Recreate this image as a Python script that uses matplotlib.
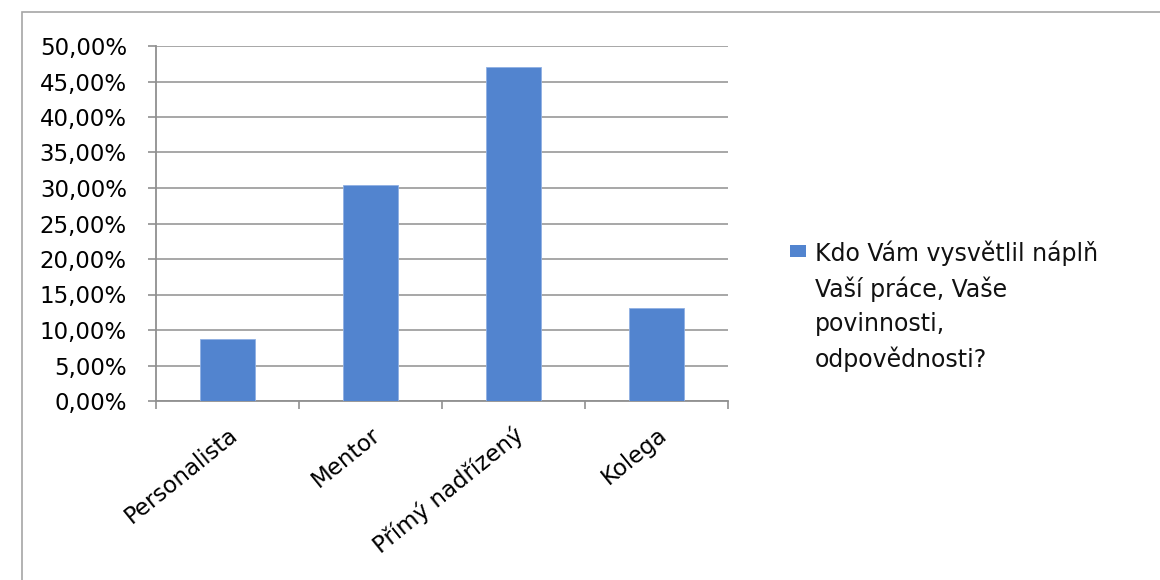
import matplotlib
matplotlib.use("Agg")
import matplotlib.pyplot as plt
from matplotlib.patches import Rectangle
from matplotlib.ticker import FuncFormatter, FixedLocator

categories = ["Personalista", "Mentor", "Přímý nadřízený", "Kolega"]
values = [8.8, 30.4, 47.1, 13.1]
series_label = "Kdo Vám vysvětlil náplň\nVaší práce, Vaše\npovinnosti,\nodpovědnosti?"
y_ticks = [0, 5, 10, 15, 20, 25, 30, 35, 40, 45, 50]

plt.rcParams['font.family'] = ['DejaVu Sans']
W, H = 1160, 580
bar_color = '#5284CF'

fig = plt.figure(figsize=(11.6, 5.8), dpi=100)
# outer chart border
fig.patches.append(Rectangle((22/W, -0.1), 1.2, 1 - 12/H + 0.1, transform=fig.transFigure,
                             fill=False, edgecolor='#a6a6a6', linewidth=1.2))

ax = fig.add_axes([156/W, 1 - 401/H, (728 - 156)/W, (401 - 46)/H])
x = list(range(len(categories)))
ax.bar(x, values, width=0.39, color=bar_color, edgecolor='#8fb0e3', linewidth=0.6,
       label=series_label, zorder=3)

ax.set_xlim(-0.5, len(categories) - 0.5)
ax.set_ylim(0, 50)
ax.yaxis.set_major_locator(FixedLocator(y_ticks))
ax.yaxis.set_major_formatter(FuncFormatter(lambda v, p: f"{v:.2f}".replace('.', ',') + "%"))
ax.grid(axis='y', color='#a0a0a0', linewidth=1.3, zorder=0)
ax.set_axisbelow(True)

ax.set_xticks(x)
ax.set_xticklabels(categories, rotation=39, ha='right', rotation_mode='anchor', fontsize=16.5)
ax.set_xticks([i - 0.5 for i in range(len(categories) + 1)], minor=True)
ax.tick_params(axis='x', which='major', length=0, pad=16)
ax.tick_params(axis='x', which='minor', length=6, color='#909090', width=1.2)
ax.tick_params(axis='y', length=6, color='#909090', width=1.2, labelsize=16.5, pad=15)

for s in ['top', 'right']:
    ax.spines[s].set_visible(False)
for s in ['left', 'bottom']:
    ax.spines[s].set_color('#909090')
    ax.spines[s].set_linewidth(1.3)

# legend (single series), drawn manually so the key sits at the first line
fig.patches.append(Rectangle((790/W, 1 - 257/H), 16/W, 12/H, transform=fig.transFigure,
                             facecolor=bar_color, edgecolor='none'))
fig.text(815/W, 1 - 241/H, series_label, ha='left', va='top', fontsize=17,
         linespacing=1.5, color='#111111')

fig.savefig("out.png", dpi=100)
